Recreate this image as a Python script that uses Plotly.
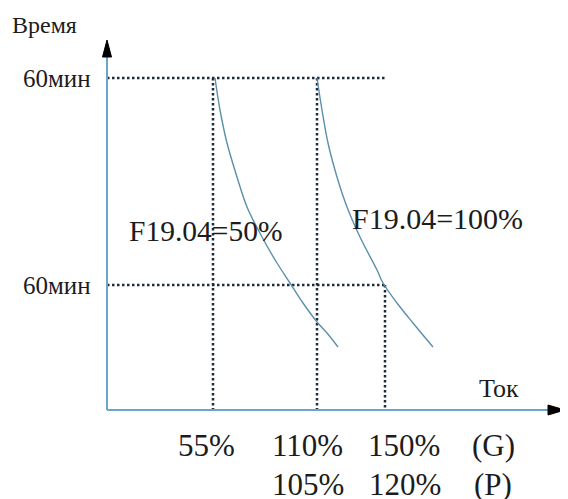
import plotly.graph_objects as go

# ---- data (schematic units: x = current position along axis, y = time level) ----
time_levels = [332, 125]                # upper "60мин" level, lower "60мин" level
time_labels = ["60мин", "60мин"]
guide_x = [106, 210, 278]               # 55%/105%, 110%/120%, 150% guide positions
guide_top = [332, 332, 125]
g_labels = ["55%", "110%", "150%", "(G)"]
g_label_x = [99, 200, 297, 386]
p_labels = ["105%", "120%", "(P)"]
p_label_x = [201, 298, 386]

curve50_x = [108, 113, 120, 130, 140, 155, 170, 183, 196, 210, 220, 231]
curve50_y = [332, 300, 267, 233, 203, 173, 147, 127, 107, 88, 77, 63]
curve100_x = [210, 215, 221, 230, 240, 253, 270, 276, 290, 306, 326]
curve100_y = [332, 300, 267, 233, 203, 173, 140, 127, 107, 87, 63]
curve_labels = ["F19.04=50%", "F19.04=100%"]

FONT = "Liberation Serif, Times New Roman, serif"
TXT = "#1c1c1c"
DOT = "#1d2b3a"
CURVE = "#5b8fab"
AXIS = "#6aa6cc"

fig = go.Figure()

# dotted horizontal guides
h_ends = [280, 278]
for lvl, xe in zip(time_levels, h_ends):
    fig.add_trace(go.Scatter(x=[0, xe], y=[lvl, lvl], mode="lines",
                             line=dict(color=DOT, width=2.5, dash="2.5px,2.5px"),
                             hoverinfo="skip", showlegend=False))
# dotted vertical guides
for gx, gt in zip(guide_x, guide_top):
    fig.add_trace(go.Scatter(x=[gx, gx], y=[gt, 0], mode="lines",
                             line=dict(color=DOT, width=2.5, dash="2.5px,2.5px"),
                             hoverinfo="skip", showlegend=False))

# curves
for cx, cy in [(curve50_x, curve50_y), (curve100_x, curve100_y)]:
    fig.add_trace(go.Scatter(x=cx, y=cy, mode="lines",
                             line=dict(color=CURVE, width=1.4, shape="spline", smoothing=1.0),
                             hoverinfo="skip", showlegend=False))

# axes with arrows
shapes = [
    dict(type="line", xref="x", yref="y", x0=0, y0=0, x1=0, y1=356,
         line=dict(color=AXIS, width=2)),
    dict(type="line", xref="x", yref="y", x0=0, y0=0, x1=444, y1=0,
         line=dict(color=AXIS, width=2)),
    dict(type="path", xref="x", yref="y", path="M -4.5 353 L 4.5 353 L 0 370 Z",
         fillcolor="black", line=dict(color="black", width=1)),
    dict(type="path", xref="x", yref="y", path="M 441 5 L 441 -5 L 458 0 Z",
         fillcolor="black", line=dict(color="black", width=1)),
]

ann = []
def txt(x, y, s, size, xanchor="center"):
    ann.append(dict(x=x, y=y, xref="x", yref="y", text=s, showarrow=False,
                    xanchor=xanchor, yanchor="middle",
                    font=dict(family=FONT, size=size, color=TXT)))

txt(-63, 385, "Время", 24)
for lvl, lab in zip(time_levels, time_labels):
    txt(-14, lvl, lab, 25, xanchor="right")
txt(392, 22, "Ток", 26)
txt(99, 179, curve_labels[0], 29.5)
txt(330, 192, curve_labels[1], 30)
for x, s in zip(g_label_x, g_labels):
    txt(x, -35, s, 31)
for x, s in zip(p_label_x, p_labels):
    txt(x, -74, s, 31)

fig.update_layout(
    width=568, height=499,
    margin=dict(l=0, r=0, t=0, b=0),
    paper_bgcolor="white", plot_bgcolor="white",
    xaxis=dict(range=[-99, 469], visible=False, fixedrange=True),
    yaxis=dict(range=[-97, 402], visible=False, fixedrange=True),
    shapes=shapes, annotations=ann, showlegend=False,
)

fig.write_html("out.html")
